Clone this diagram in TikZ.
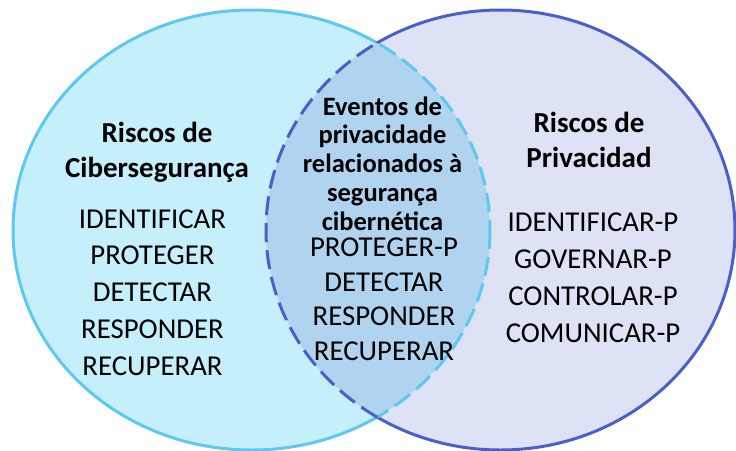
\documentclass[tikz,border=0pt]{standalone}
\usepackage{fontspec}
\setmainfont{Carlito}
\definecolor{cyberfill}{RGB}{198,239,252}
\definecolor{cyberline}{RGB}{94,200,240}
\definecolor{privfill}{RGB}{221,226,244}
\definecolor{privline}{RGB}{74,96,200}
\definecolor{lensfill}{RGB}{176,212,240}

\begin{document}
\begin{tikzpicture}[x=1pt, y=-1pt,
    every node/.style={inner sep=0pt, align=center, anchor=base},
    titletext/.style={font=\fontsize{29}{35}\selectfont\bfseries},
    listtext/.style={font=\fontsize{28.8}{36.7}\selectfont},
    lenstitle/.style={font=\fontsize{26.5}{28.7}\selectfont\bfseries},
    lenslist/.style={font=\fontsize{28.8}{34.5}\selectfont},
    dashline/.style={line width=3pt, dash pattern=on 19pt off 8pt}]
      \useasboundingbox (0,0) rectangle (736,450);
      \def\cyber{(251.5,230) ellipse [x radius=238.5, y radius=220]}
      \def\priv{(500.5,230) ellipse [x radius=234.5, y radius=220]}
      % fills of both sets and of their overlap
      \fill[cyberfill] \cyber;
      \fill[privfill] \priv;
      \begin{scope}
        \clip \cyber;
        \fill[lensfill] \priv;
      \end{scope}
      % outer outlines, solid outside the overlap
      \begin{scope}[even odd rule]
        \clip (-10,-10) rectangle (746,460) \priv;
        \draw[cyberline, line width=3pt] \cyber;
      \end{scope}
      \begin{scope}[even odd rule]
        \clip (-10,-10) rectangle (746,460) \cyber;
        \draw[privline, line width=3pt] \priv;
      \end{scope}
      % dashed outlines inside the overlap
      \begin{scope}
        \clip \priv;
        \draw[cyberline, dashline] \cyber;
      \end{scope}
      \begin{scope}
        \clip \cyber;
        \draw[privline, dashline] \priv;
      \end{scope}
      % Cybersecurity set (positions are last baselines)
      \node[titletext] (cybertitle) at (157,177) {Riscos de\\Cibersegurança};
      \node[listtext] (cyberlist) at (152.5,375) {IDENTIFICAR\\PROTEGER\\DETECTAR\\RESPONDER\\RECUPERAR};
      % overlap
      \node[lenstitle] (lenstitle) at (382.5,230) {Eventos de\\privacidade\\relacionados à\\segurança\\cibernética};
      \node[lenslist] (lenslist) at (384,360) {PROTEGER-P\\DETECTAR\\RESPONDER\\RECUPERAR};
      % Privacy set
      \node[titletext] (privtitle) at (589,167) {Riscos de\\Privacidad};
      \node[listtext] (privlist) at (593,342) {IDENTIFICAR-P\\GOVERNAR-P\\CONTROLAR-P\\COMUNICAR-P};
    \end{tikzpicture}
\end{document}
